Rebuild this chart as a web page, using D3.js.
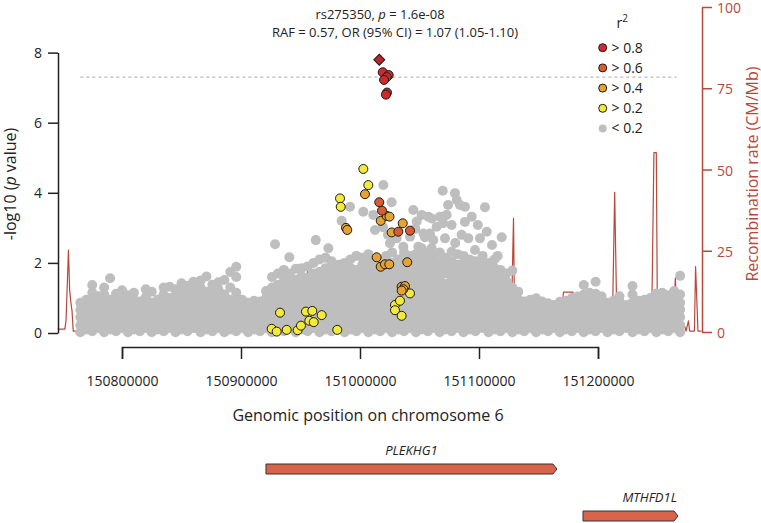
<!DOCTYPE html>
<html><head><meta charset="utf-8">
<script src="https://cdn.jsdelivr.net/npm/d3@7"></script>
<style>
html,body{margin:0;padding:0;background:#fff;}
svg{display:block;font-family:"Open Sans",sans-serif;}
</style></head><body>
<svg id="chart" width="761" height="523"></svg>
<script>
// ---------------- data ----------------
const xTicks = [150800000,150900000,151000000,151100000,151200000];
const yTicks = [0,2,4,6,8];
const recTicks = [0,25,50,75,100];
const legendLabels = ["> 0.8","> 0.6","> 0.4","> 0.2","< 0.2"];
const ldColors = ["#CF2A2E","#D95B31","#E6A232","#F4EA3C","#BEBEBE"];
const titleLine1 = ["rs275350, ", "p", " = 1.6e-08"];
const titleLine2 = "RAF = 0.57, OR (95% CI) = 1.07 (1.05-1.10)";
const leadSnpKb = 151016.2, leadSnpLogP = 7.796;
const sigThreshold = 7.3;
const sigRangeKb = [150765, 151266];

// [position (kb), -log10 p]
const redPts = [[151019.1,7.44],[151024.1,7.36],[151022.4,7.30],[151020.2,7.22],[151022.7,6.86],[151021.8,6.80]];
const darkOrangePts = [[151016.2,3.73],[151018.5,3.49],[151032.2,2.89],[151042.0,2.92]];
const orangePts = [[151004.2,3.96],[150988.2,3.00],[150989.3,2.94],[151017.4,3.20],[151022.4,3.34],[151024.8,3.32],
  [151035.9,3.13],[151026.6,2.87],[151014.0,2.16],[151017.4,1.89],[151021.0,1.96],[151024.6,1.96],[151039.7,2.02],
  [151035.0,1.32],[151037.8,1.34],[151036.4,1.25],[151035.0,1.21]];
const yellowPts = [[151002.8,4.68],[151007.0,4.22],[150983.2,3.84],[150983.8,3.60],[150932.8,0.58],[150925.8,0.12],
  [150930.0,0.04],[150938.4,0.09],[150947.6,0.08],[150950.4,0.21],[150954.6,0.61],[150959.9,0.63],[150957.4,0.35],
  [150961.1,0.31],[150967.8,0.51],[150980.9,0.09],[151029.4,0.80],[151033.6,0.92],[151029.4,0.65],[151035.0,0.49],
  [151042.0,1.13]];
// grey SNPs (r2 < 0.2), scattered upper ones: [position (kb), -log10 p]
const greyUpper = [
[151069.5,4.06],[151079.8,3.99],[151081.3,3.79],[151084.0,3.65],[151105.0,3.59],[151088.2,3.60],[151093.9,3.32],
[151044.8,3.51],[151051.8,3.37],[151057.4,3.32],[151067.2,3.32],[151072.8,3.37],[151064.4,3.03],[151069.9,3.13],
[151077.0,3.08],[151053.3,2.84],[151085.4,2.80],[151091.0,2.70],[151100.8,2.70],[151106.5,2.89],[151119.1,2.73],
[151051.8,2.42],[151060.2,2.42],[151077.0,2.32],[151096.6,2.37],[151070.0,2.11],[151115.7,2.20],
[151019.6,4.22],[151026.6,3.73],[151002.8,3.46],[151011.2,3.37],[150991.6,3.60],[150984.6,3.20],[150962.8,2.65],
[150973.4,2.42],[150928.6,2.53],[150940.6,2.16],[151058.8,2.84],[151054.6,2.73],[151049.0,2.46],[151060.1,3.27],
[151047.6,3.18],[151071.4,2.70],[151012.6,2.94],[151025.2,2.56],[151030.8,2.70],[151036.4,2.46],[151042.0,2.75],
[151019.3,3.02],[151023.5,2.80],
[151046.5,2.97],[151061.6,2.65],[151080.0,2.57],[151088.2,3.17],[151099.0,3.08],[151110.9,2.51],[151074.0,3.65]
];
// grey SNPs (r2 < 0.2), dense band: [position (kb), [-log10 p values]]
const greyCols = [
[150765,[0.02,0.22,0.45,0.66,0.86]],
[150770,[0.1,0.3,0.52,0.74,0.95]],
[150775,[0.05,0.26,0.48,0.7,0.9,1.15,1.37]],
[150780,[0.14,0.36,0.58,0.8,1.05]],
[150785,[0.02,0.22,0.45,0.66,0.86,1.1,1.3]],
[150790,[0.1,0.3,0.52,0.74,0.95,1.56]],
[150795,[0.05,0.26,0.48,0.7,0.9,1.12]],
[150800,[0.14,0.36,0.58,0.8,1.0,1.22]],
[150805,[0.02,0.22,0.45,0.66,0.86,1.08]],
[150810,[0.1,0.3,0.52,0.74,0.95,1.15]],
[150815,[0.05,0.26,0.48,0.7,0.9]],
[150820,[0.14,0.36,0.58,0.8,1.02,1.25]],
[150825,[0.02,0.22,0.45,0.66,0.86,1.18]],
[150830,[0.1,0.3,0.52,0.74,0.95]],
[150835,[0.05,0.26,0.48,0.7,0.9,1.1,1.3]],
[150840,[0.14,0.36,0.58,0.8,1.0,1.32]],
[150845,[0.02,0.22,0.45,0.66,0.86,1.08,1.25]],
[150850,[0.1,0.3,0.52,0.74,0.95,1.2,1.42]],
[150855,[0.05,0.26,0.48,0.7,0.9,1.12,1.35]],
[150860,[0.14,0.36,0.58,0.8,1.0,1.22,1.46]],
[150866,[0.02,0.22,0.45,0.66,0.86,1.1,1.3,1.5]],
[150871,[0.1,0.3,0.52,0.74,0.95,1.18,1.61]],
[150876,[0.05,0.26,0.48,0.7,0.9,1.12,1.38]],
[150881,[0.14,0.36,0.58,0.8,1.02,1.25,1.45]],
[150886,[0.02,0.22,0.45,0.66,0.86,1.1,1.51]],
[150891,[0.1,0.3,0.52,0.74,0.95,1.3,1.74]],
[150896,[0.05,0.26,0.48,0.7,0.9,1.15,1.6,1.89]],
[150901,[0.14,0.36,0.58,0.8,0.95]],
[150906,[0.02,0.22,0.45,0.66,0.86]],
[150911,[0.1,0.3,0.52,0.74,0.92]],
[150916,[0.05,0.26,0.48,0.7,0.9]],
[150921,[0.14,0.36,0.58,0.8,1.0,1.2]],
[150926,[0.02,0.22,0.45,0.66,0.86,1.08,1.3,1.6]],
[150931,[0.1,0.3,0.52,0.74,0.95,1.15,1.38,1.7]],
[150936,[0.05,0.26,0.48,0.7,0.9,1.12,1.35,1.58,1.8]],
[150941,[0.14,0.36,0.58,0.8,1.02,1.25,1.48,1.7]],
[150946,[0.02,0.22,0.45,0.66,0.86,1.08,1.3,1.52,1.83]],
[150951,[0.1,0.3,0.52,0.74,0.95,1.18,1.4,1.62,1.85]],
[150956,[0.05,0.26,0.48,0.7,0.9,1.12,1.35,1.58,1.9]],
[150961,[0.14,0.36,0.58,0.8,1.02,1.25,1.48,1.7,2.0]],
[150966,[0.02,0.22,0.45,0.66,0.86,1.08,1.3,1.52,1.75,2.1]],
[150971,[0.1,0.3,0.52,0.74,0.95,1.18,1.4,1.62,1.85,2.15]],
[150976,[0.05,0.26,0.48,0.7,0.9,1.12,1.35,1.58,1.8,2.05]],
[150982,[0.14,0.36,0.58,0.8,1.02,1.25,1.48,1.7,1.95]],
[150987,[0.02,0.22,0.45,0.66,0.86,1.08,1.3,1.52,1.75,2.0]],
[150992,[0.1,0.3,0.52,0.74,0.95,1.18,1.4,1.62,1.85,2.1]],
[150997,[0.05,0.26,0.48,0.7,0.9,1.12,1.35,1.58,1.8,2.2]],
[151002,[0.14,0.36,0.58,0.8,1.02,1.25,1.48,1.7,1.95,2.15]],
[151007,[0.02,0.22,0.45,0.66,0.86,1.08,1.3,1.52,1.75,2.0,2.25]],
[151012,[0.1,0.3,0.52,0.74,0.95,1.18,1.4,1.62,1.85,2.1]],
[151017,[0.05,0.26,0.48,0.7,0.9,1.12,1.35,1.58,1.8,2.05]],
[151022,[0.14,0.36,0.58,0.8,1.02,1.25,1.48,1.7,1.95,2.2]],
[151027,[0.02,0.22,0.45,0.66,0.86,1.08,1.3,1.52,1.75,2.0,2.3]],
[151032,[0.1,0.3,0.52,0.74,0.95,1.18,1.4,1.62,1.85,2.1]],
[151037,[0.05,0.26,0.48,0.7,0.9,1.12,1.35,1.58,1.8,2.05,2.3]],
[151042,[0.14,0.36,0.58,0.8,1.02,1.25,1.48,1.7,1.95,2.2]],
[151047,[0.02,0.22,0.45,0.66,0.86,1.08,1.3,1.52,1.75,2.0,2.25]],
[151052,[0.1,0.3,0.52,0.74,0.95,1.18,1.4,1.62,1.85,2.1,2.3]],
[151057,[0.05,0.26,0.48,0.7,0.9,1.12,1.37,1.58,1.8,2.05,2.3]],
[151062,[0.14,0.36,0.58,0.8,1.02,1.25,1.48,1.7,1.95,2.2]],
[151067,[0.02,0.22,0.45,0.66,0.86,1.08,1.3,1.52,1.75,2.0,2.3]],
[151072,[0.1,0.3,0.52,0.74,0.95,1.18,1.4,1.7,1.9,2.15]],
[151077,[0.05,0.26,0.48,0.7,0.9,1.12,1.35,1.58,1.8,2.05]],
[151082,[0.14,0.36,0.58,0.8,1.02,1.25,1.48,1.7,1.95,2.25]],
[151087,[0.02,0.22,0.45,0.66,0.86,1.08,1.3,1.56,1.75,2.0,2.2]],
[151092,[0.1,0.3,0.52,0.74,0.95,1.18,1.37,1.62,1.85,2.1]],
[151097,[0.05,0.26,0.48,0.7,0.9,1.12,1.35,1.58,1.8,2.05]],
[151103,[0.14,0.36,0.58,0.8,1.02,1.25,1.48,1.7,1.95,2.2]],
[151108,[0.02,0.22,0.45,0.66,0.86,1.08,1.3,1.52,1.75,2.0]],
[151113,[0.1,0.3,0.52,0.74,0.95,1.18,1.4,1.62,1.85,2.1]],
[151118,[0.05,0.26,0.48,0.7,0.9,1.12,1.35,1.61,1.8]],
[151123,[0.14,0.36,0.58,0.8,1.02,1.25,1.48,1.7]],
[151128,[0.02,0.22,0.45,0.66,0.86,1.08,1.3,1.78]],
[151133,[0.1,0.3,0.52,0.74,0.95,1.18]],
[151138,[0.05,0.26,0.48,0.7,0.9]],
[151143,[0.14,0.36,0.58,0.8,0.95]],
[151148,[0.02,0.22,0.45,0.66,0.86,0.99]],
[151153,[0.1,0.3,0.52,0.74,0.9]],
[151158,[0.05,0.26,0.48,0.7,0.85]],
[151163,[0.14,0.36,0.58,0.8]],
[151168,[0.02,0.22,0.45,0.66,0.89]],
[151173,[0.1,0.3,0.52,0.74,0.92]],
[151178,[0.05,0.26,0.48,0.7,0.9,1.0]],
[151183,[0.14,0.36,0.58,0.8,1.04]],
[151188,[0.02,0.22,0.45,0.66,0.86,1.1,1.37]],
[151193,[0.1,0.3,0.52,0.74,0.95,1.15]],
[151198,[0.05,0.26,0.48,0.7,0.9,1.12,1.46]],
[151203,[0.14,0.36,0.58,0.8,1.05]],
[151208,[0.02,0.22,0.45,0.66,0.86]],
[151213,[0.1,0.3,0.52,0.74,0.92]],
[151218,[0.05,0.26,0.48,0.7,0.9,1.05]],
[151224,[0.14,0.36,0.58,0.8]],
[151229,[0.02,0.22,0.45,0.66,0.86,1.1,1.34]],
[151234,[0.1,0.3,0.52,0.74,0.92]],
[151239,[0.05,0.26,0.48,0.7,0.95]],
[151244,[0.14,0.36,0.58,0.8,1.0]],
[151249,[0.02,0.22,0.45,0.66,0.86,1.13]],
[151254,[0.1,0.3,0.52,0.74,0.95,1.15]],
[151259,[0.05,0.26,0.48,0.7,0.9,1.08]],
[151264,[0.14,0.36,0.58,0.8,1.02,1.2]],
[151269,[0.02,0.22,0.45,0.66,0.86,1.1,1.63]]
];
// recombination rate: [position (kb), cM/Mb]
const recomb = [
[150746,0.9],[150752,0.9],[150753,3.7],[150755,25.2],[150756,12.9],[150757,9.2],[150758,6.5],[150759,0.3],
[150824,0.3],[150866,0.5],[150887,0.6],[150888,7.4],[150889,0.6],
[150916,0.3],[150946,0.6],[150948,5.2],[150950,0.5],
[150955,0.6],[150956,21.2],[150957,0.6],
[150968,1.2],[150970,12.3],[150971,1.0],[150974,0.8],[150975,12.3],[150976,0.8],
[150983,0.3],[150987,1.5],[150992,0.3],
[151008,0.5],[151010,3],[151017,3],[151021,0.3],
[151045,0.4],[151047,4.3],[151049,0.4],
[151103,0.3],[151105,21.2],[151107,0.3],
[151114,0.3],[151116,1.2],[151118,0.3],
[151127,0.3],[151129,35],[151130,0.3],
[151141,0.3],[151143,3.7],[151145,0.3],
[151167,0.3],[151170,8.3],[151171,12.3],[151179,12.3],[151181,5],[151182,0.3],
[151193,0.3],[151195,2.2],[151197,0.3],
[151212,0.3],[151214,43],[151216,0.3],
[151245,0.3],[151247,55.2],[151249,55.2],[151250,0.3],
[151263,0.3],[151265,16.6],[151267,0.3],
[151269,2.2],[151271,0.3],[151272,2.8],[151274,0.3],[151276,3.4],[151277,0.3],
[151281,0.3],[151282,20.1],[151284,0.3],[151287,0.3]
];
const genes = ["PLEKHG1","MTHFD1L"];
const geneStartKb = [150921.0, 151187.4];
const geneEndKb = [151165.5, 151267.2];

// ---------------- drawing ----------------
const REC = "#B9483B", AX = "#222";
const svg = d3.select("#chart");
const x = d3.scaleLinear().domain([150800000,151200000]).range([122,598]);
const yL = d3.scaleLinear().domain([0,8]).range([333,52.6]);
const yR = d3.scaleLinear().domain([0,100]).range([332,7]);
const kb = v => x(v*1000);

// recombination line
svg.append("path").datum(recomb)
  .attr("fill","none").attr("stroke",REC).attr("stroke-width",1.2).attr("stroke-linejoin","round")
  .attr("d", d3.line().x(d=>kb(d[0])).y(d=>yR(d[1])));

// significance line
svg.append("line")
  .attr("x1",kb(sigRangeKb[0])).attr("x2",kb(sigRangeKb[1]))
  .attr("y1",yL(sigThreshold)).attr("y2",yL(sigThreshold))
  .attr("stroke","#aaa").attr("stroke-width",1).attr("stroke-dasharray","3,3");

// grey points
const grey = greyCols.flatMap(([p, vals]) => vals.map(v => [p, v])).concat(greyUpper);
svg.append("g").selectAll("circle").data(grey).join("circle")
  .attr("cx",d=>kb(d[0])).attr("cy",d=>yL(d[1])).attr("r",5).attr("fill",ldColors[4]);

// coloured points
[[yellowPts,3],[orangePts,2],[darkOrangePts,1],[redPts,0]].forEach(([pts,ci])=>{
  svg.append("g").selectAll("circle").data(pts).join("circle")
    .attr("cx",d=>kb(d[0])).attr("cy",d=>yL(d[1])).attr("r",4.5)
    .attr("fill",ldColors[ci]).attr("stroke","#1a1a1a").attr("stroke-width",1);
});
// lead SNP diamond
svg.append("path")
  .attr("d", d3.symbol(d3.symbolSquare, 60)())
  .attr("transform",`translate(${kb(leadSnpKb)},${yL(leadSnpLogP)}) rotate(45)`)
  .attr("fill","#B8262C").attr("stroke","#2a1010").attr("stroke-width",1);

// axes
const gL = svg.append("g").attr("transform","translate(58,0)")
  .call(d3.axisLeft(yL).tickValues(yTicks).tickSize(10).tickSizeOuter(0).tickPadding(6));
gL.selectAll("path,line").attr("stroke",AX).attr("stroke-width",1.5);
gL.selectAll("text").attr("fill",AX).style("font-size","14px").style("font-family","Open Sans");

const gR = svg.append("g").attr("transform","translate(702,0)")
  .call(d3.axisRight(yR).tickValues(recTicks).tickSize(10).tickSizeOuter(0).tickPadding(5));
gR.selectAll("path,line").attr("stroke",REC).attr("stroke-width",1.5);
gR.selectAll("text").attr("fill",REC).attr("dy","0.4em").style("font-size","14px").style("font-family","Open Sans");

const gB = svg.append("g").attr("transform","translate(0,347)")
  .call(d3.axisBottom(x).tickValues(xTicks).tickSize(12).tickSizeOuter(12).tickPadding(17).tickFormat(d3.format("d")));
gB.selectAll("path,line").attr("stroke",AX).attr("stroke-width",1.5);
gB.selectAll("text").attr("fill",AX).style("font-size","14px").style("font-family","Open Sans");

// axis titles
svg.append("text").attr("x",368).attr("y",421).attr("text-anchor","middle")
  .style("font-size","16px").attr("fill",AX).text("Genomic position on chromosome 6");
const lt = svg.append("text").attr("transform","translate(15.5,184) rotate(-90)")
  .attr("text-anchor","middle").style("font-size","16px").attr("fill",AX);
lt.append("tspan").text("-log10 (");
lt.append("tspan").style("font-style","italic").text("p");
lt.append("tspan").text(" value)");
svg.append("text").attr("transform","translate(757.5,174) rotate(-90)")
  .attr("text-anchor","middle").style("font-size","16px").attr("fill",REC).text("Recombination rate (CM/Mb)");

// title
const t1 = svg.append("text").attr("x",380).attr("y",19).attr("text-anchor","middle")
  .style("font-size","13px").attr("fill",AX);
t1.append("tspan").text(titleLine1[0]);
t1.append("tspan").style("font-style","italic").text(titleLine1[1]);
t1.append("tspan").text(titleLine1[2]);
svg.append("text").attr("x",395).attr("y",37).attr("text-anchor","middle")
  .style("font-size","13px").attr("fill",AX).text(titleLine2);

// legend
const lg = svg.append("g");
const r2 = lg.append("text").attr("x",616.5).attr("y",28).style("font-size","14px").attr("fill",AX);
r2.append("tspan").text("r");
r2.append("tspan").attr("dy",-6).style("font-size","10px").text("2");
legendLabels.forEach((lab,i)=>{
  const yy = 47.7 + i*20.2;
  lg.append("circle").attr("cx",602.7).attr("cy",yy).attr("r",4)
    .attr("fill",ldColors[i]).attr("stroke", i<4 ? "#1a1a1a" : "none").attr("stroke-width",1);
  lg.append("text").attr("x",611.5).attr("y",yy).attr("dy","0.35em")
    .style("font-size","14px").attr("fill",AX).text(lab);
});

// genes
const rowTop = [464, 511], barH = 10, tip = 4;
genes.forEach((g,i)=>{
  const x0 = kb(geneStartKb[i]), x1 = kb(geneEndKb[i]), y0 = rowTop[i];
  svg.append("path")
    .attr("d",`M${x0},${y0}H${x1-tip}L${x1},${y0+barH/2}L${x1-tip},${y0+barH}H${x0}Z`)
    .attr("fill","#D8644C").attr("stroke","#333").attr("stroke-width",1);
  const end = i===1;
  svg.append("text").attr("x", end ? x1-1 : (x0+x1)/2).attr("y", y0-9)
    .attr("text-anchor", end ? "end" : "middle")
    .style("font-size","13px").style("font-style","italic").attr("fill",AX).text(g);
});
</script>
</body></html>
